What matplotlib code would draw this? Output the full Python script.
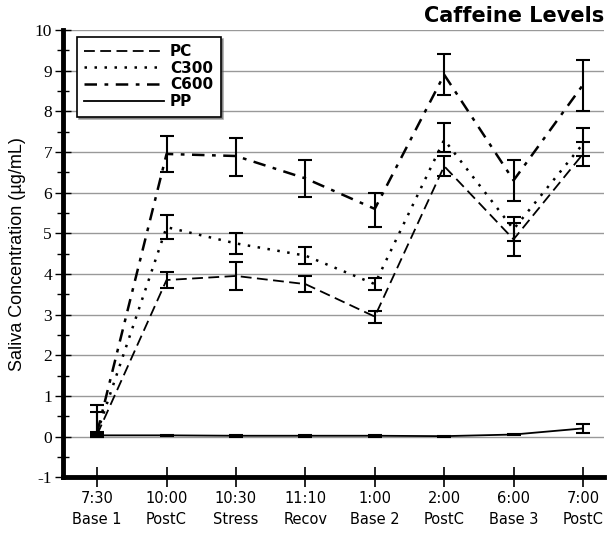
import numpy as np
import matplotlib
matplotlib.use("Agg")
import matplotlib.pyplot as plt
from matplotlib.lines import Line2D

plt.rcParams["axes.unicode_minus"] = False

# Data
times = ["7:30", "10:00", "10:30", "11:10", "1:00", "2:00", "6:00", "7:00"]
phases = ["Base 1", "PostC", "Stress", "Recov", "Base 2", "PostC", "Base 3", "PostC"]

pc = [0.05, 3.85, 3.95, 3.75, 2.95, 6.65, 4.85, 6.95]
pc_err = [0.05, 0.2, 0.35, 0.2, 0.15, 0.25, 0.4, 0.3]

c300 = [0.1, 5.15, 4.75, 4.45, 3.75, 7.3, 5.1, 7.2]
c300_err_lo = [0.05, 0.3, 0.25, 0.2, 0.15, 0.3, 0.3, 0.3]
c300_err_hi = [0.5, 0.3, 0.25, 0.2, 0.15, 0.4, 0.3, 0.4]

c600 = [0.1, 6.95, 6.9, 6.35, 5.6, 8.9, 6.3, 8.65]
c600_err_lo = [0.05, 0.45, 0.5, 0.45, 0.45, 0.5, 0.5, 0.65]
c600_err_hi = [0.68, 0.45, 0.45, 0.45, 0.4, 0.5, 0.5, 0.6]

pp = [0.03, 0.03, 0.02, 0.02, 0.02, 0.01, 0.05, 0.2]
pp_err = [0.03, 0.02, 0.02, 0.02, 0.02, 0.01, 0.02, 0.12]

x = np.arange(len(times))

fig = plt.figure(figsize=(6.13, 5.35), dpi=100)
ax = fig.add_axes([0.103, 0.108, 0.882, 0.836])

ax.set_ylim(-1, 10)
ax.set_xlim(-0.49, 7.3)
ax.set_yticks(range(-1, 11))
ax.set_yticks(np.arange(-0.5, 10, 1.0), minor=True)
ax.yaxis.grid(True, color="#999999", linewidth=1)
ax.set_axisbelow(True)

ekw = dict(ecolor="black", elinewidth=1.5, capsize=5, capthick=1.5, color="black")
styles = {
    "PC": dict(linestyle=(0, (6, 3)), lw=1.3),
    "C300": dict(linestyle=(0, (1, 3)), lw=1.8),
    "C600": dict(linestyle=(0, (5, 3, 1.5, 3)), lw=1.8),
    "PP": dict(linestyle="-", lw=1.3),
}
ax.errorbar(x, pc, yerr=pc_err, **styles["PC"], **ekw)
ax.errorbar(x, c300, yerr=[c300_err_lo, c300_err_hi], **styles["C300"], **ekw)
ax.errorbar(x, c600, yerr=[c600_err_lo, c600_err_hi], **styles["C600"], **ekw)
ax.errorbar(x, pp, yerr=pp_err, **styles["PP"], **ekw)

for s in ["top", "right"]:
    ax.spines[s].set_visible(False)
ax.spines["left"].set_linewidth(3.5)
ax.spines["bottom"].set_linewidth(3.5)

ax.set_xticks(x)
ax.set_xticklabels([f"{t}\n{p}" for t, p in zip(times, phases)],
                   fontsize=10.5, linespacing=1.5)
ax.tick_params(axis="x", direction="inout", length=14, width=1.2, pad=3)
ax.tick_params(axis="y", which="major", direction="inout", length=12, width=1, pad=2)
ax.tick_params(axis="y", which="minor", direction="inout", length=8, width=1)
for lbl in ax.get_yticklabels():
    lbl.set_family(["Liberation Serif", "DejaVu Serif"])
    lbl.set_fontsize(12.5)

ax.set_ylabel("Saliva Concentration (µg/mL)", fontsize=13,
              family=["Liberation Sans", "DejaVu Sans"], labelpad=6)

fig.text(0.985, 0.952, "Caffeine Levels", ha="right", va="bottom",
         fontsize=15, fontweight="bold")

handles = [Line2D([], [], color="black", **styles[k]) for k in styles]
leg = ax.legend(handles, list(styles), loc="upper left", bbox_to_anchor=(0.025, 0.985),
                borderaxespad=0, handlelength=5.2, fancybox=False, edgecolor="black",
                framealpha=1, shadow={"color": "#555555", "alpha": 0.5}, labelspacing=0.1,
                prop={"weight": "bold", "size": 11}, handletextpad=0.4, borderpad=0.5)
leg.get_frame().set_linewidth(1.2)

fig.savefig("out.png", dpi=100)
